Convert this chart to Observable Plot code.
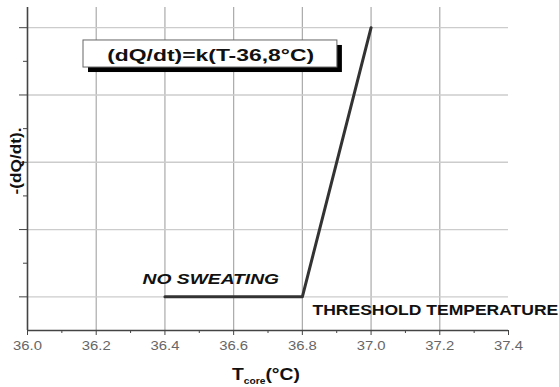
<!DOCTYPE html>
<html>
<head>
<meta charset="utf-8">
<script src="https://cdn.jsdelivr.net/npm/d3@7"></script>
<script src="https://cdn.jsdelivr.net/npm/@observablehq/plot@0.6"></script>
<style>
  html, body { margin: 0; padding: 0; background: #fff; }
</style>
</head>
<body>
<div id="chart"></div>
<script>
// Data
const temps = [36.4, 36.8, 37.0];
const rates = [1, 1, 5];
const xTicks = [36.0, 36.2, 36.4, 36.6, 36.8, 37.0, 37.2, 37.4];
const xTickLabels = ["36.0", "36.2", "36.4", "36.6", "36.8", "37.0", "37.2", "37.4"];
const xMinor = [36.1, 36.3, 36.5, 36.7, 36.9, 37.1, 37.3];
const yTicks = [1, 2, 3, 4, 5];
const yMinor = [1.5, 2.5, 3.5, 4.5];
const equation = "(dQ/dt)=k(T-36,8°C)";
const noSweat = "NO SWEATING";
const threshold = "THRESHOLD TEMPERATURE";
const yLabel = "-(dQ/dt).";

const line = temps.map((t, i) => ({t, q: rates[i]}));
const font = "'Liberation Sans', Arial, sans-serif";

const chart = Plot.plot({
  width: 559,
  height: 387,
  marginLeft: 27,
  marginRight: 51,
  marginTop: 7,
  marginBottom: 57,
  style: {fontFamily: font, background: "white"},
  x: {domain: [36.0, 37.4]},
  y: {domain: [0.5, 5.3]},
  marks: [
    Plot.ruleX(xTicks.slice(1, -1), {y1: 0.5, y2: 5.3, stroke: "#aaa", strokeWidth: 1.2}),
    Plot.ruleY(yTicks, {x1: 36.0, x2: 37.4, stroke: "#ccc", strokeWidth: 1.3}),
    Plot.axisX(xTicks, {tickSize: 5, tickPadding: 6, stroke: "#444", fill: "#666", fontSize: 12.5,
      tickFormat: d => xTickLabels[xTicks.indexOf(d)], label: null}),
    Plot.axisX(xMinor, {tickSize: 3, stroke: "#444", tickFormat: () => "", label: null}),
    Plot.axisY(yTicks, {tickSize: 8, stroke: "#444", tickFormat: () => "", label: null}),
    Plot.axisY(yMinor, {tickSize: 4, stroke: "#444", tickFormat: () => "", label: null}),
    Plot.ruleY([0.5], {x1: 36.0, x2: 37.4, stroke: "#444", strokeWidth: 1.6}),
    Plot.ruleX([36.0], {y1: 0.5, y2: 5.3, stroke: "#444", strokeWidth: 1.6}),
    Plot.line(line, {x: "t", y: "q", stroke: "#333", strokeWidth: 3}),
    // equation box with shadow
    Plot.rect([0], {x1: 36.163, x2: 36.902, y1: 4.408, y2: 4.81, fill: "#000", dx: 5, dy: 5}),
    Plot.rect([0], {x1: 36.163, x2: 36.902, y1: 4.408, y2: 4.81, fill: "#fff", stroke: "#666", strokeWidth: 1}),
    Plot.text([equation], {x: 36.533, y: 4.59, fontSize: 16.5, fontWeight: "bold", fill: "#111"}),
    Plot.text([noSweat], {x: 36.335, y: 1.265, textAnchor: "start", fontSize: 15, fontWeight: "bold",
      fontStyle: "italic", fill: "#111"}),
    Plot.text([threshold], {x: 36.8295, y: 0.805, textAnchor: "start", fontSize: 15, fontWeight: "bold",
      fill: "#111"})
  ]
});

document.getElementById("chart").appendChild(chart);
const svg = d3.select(chart);

// y axis title (rotated)
svg.append("text")
  .attr("class", "ylab")
  .attr("transform", "translate(21,161) rotate(-90)")
  .attr("text-anchor", "middle")
  .attr("font-family", font)
  .attr("font-weight", "bold")
  .attr("font-size", 14)
  .attr("fill", "#111")
  .text(yLabel);

// x axis title with subscript
const xt = svg.append("text")
  .attr("class", "xlab")
  .attr("transform", "translate(266,380)")
  .attr("text-anchor", "middle")
  .attr("font-family", font)
  .attr("font-weight", "bold")
  .attr("font-size", 17)
  .attr("fill", "#111");
xt.append("tspan").text("T");
xt.append("tspan").attr("font-size", 9).attr("dy", 4).text("core");
xt.append("tspan").attr("dy", -4).text("(°C)");

// horizontally widen texts to match the reference's wide lettering
function stretch(el, target) {
  const w = el.getBBox().width;
  if (!w) return;
  const sx = target / w;
  const x = +el.getAttribute("x") || 0;
  const y = +el.getAttribute("y") || 0;
  const t = el.getAttribute("transform") || "";
  el.setAttribute("transform", `${t} translate(${x},${y}) scale(${sx},1) translate(${-x},${-y})`);
}
const widths = new Map([
  [equation, 207],
  [noSweat, 137],
  [threshold, 246],
  [yLabel, 67]
]);
svg.selectAll("text").each(function() {
  const t = this.textContent;
  if (widths.has(t)) stretch(this, widths.get(t));
  else if (xTickLabels.includes(t)) stretch(this, 29);
});
stretch(xt.node(), 68);
</script>
</body>
</html>
